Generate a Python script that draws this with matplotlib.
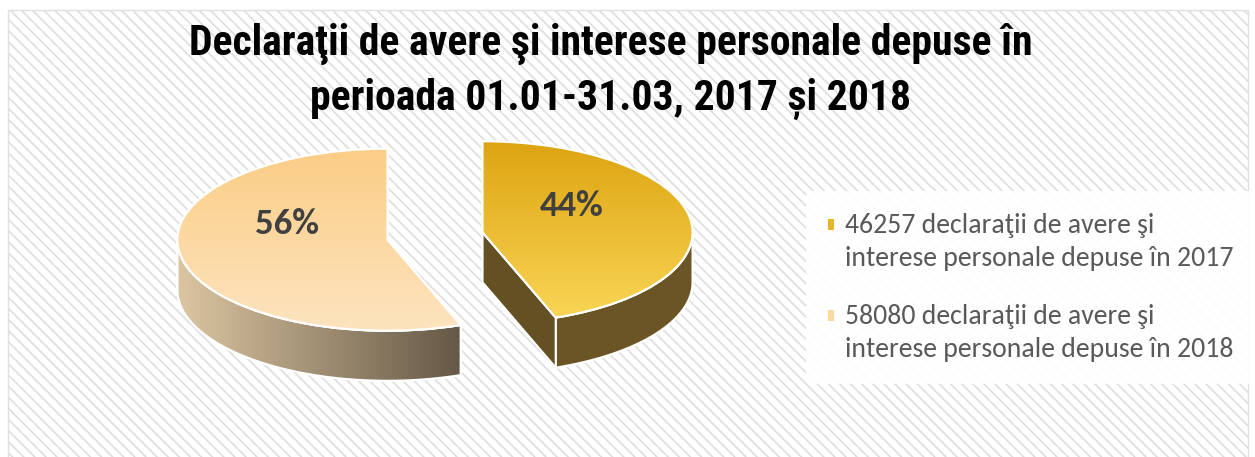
import numpy as np
import matplotlib.pyplot as plt
from matplotlib.patches import Rectangle, Polygon, Wedge
from matplotlib.colors import LinearSegmentedColormap
from matplotlib.legend_handler import HandlerPatch

# --- data ---
counts = [46257, 58080]
years = ["2017", "2018"]
legend_labels = [f"{c} declaraţii de avere şi\ninterese personale depuse în {y}"
                 for c, y in zip(counts, years)]
title = ("Declaraţii de avere şi interese personale depuse în\n"
         "perioada 01.01-31.03, 2017 și 2018")

# --- styles ---
base_colors = ["#e8b52a", "#fcd99e"]
top_grad = [("#fad657", "#dda411"), ("#fde4bf", "#fbcd86")]   # bottom -> top
side_grad = [("#6b5525", "#6b5525"), ("#dcc6a2", "#655846")]  # left -> right
face_color = "#645022"
W, H = 1255, 457
CX, CY = 435, 236      # pie centre in pixels
SX, SY = 210, 91       # pixels per unit (x, tilted y)
DEPTH = 0.55           # thickness in data units
LEG_FONT = ["Carlito", "Lato", "DejaVu Sans"]
TITLE_FONT = ["Roboto Condensed", "Archivo Narrow", "Liberation Sans", "DejaVu Sans"]

plt.rcParams['hatch.linewidth'] = 1.3

fig = plt.figure(figsize=(W / 100, H / 100), dpi=100)
fig.patches.append(Rectangle((8 / W, -0.05), 1240 / W, (H - 10) / H + 0.05,
                             transform=fig.transFigure, facecolor="white",
                             edgecolor="#e0e0e0", hatch="\\\\\\", lw=1, zorder=-1))

ax = fig.add_axes([0, 0, 1, 1])
wedges, texts, autotexts = ax.pie(counts, startangle=90, counterclock=False,
                                  explode=[0.23, 0.23], autopct="%1.0f%%",
                                  wedgeprops=dict(edgecolor="white", lw=1.5))


def gradient(ax, c0, c1, extent, clip, vertical, z):
    cmap = LinearSegmentedColormap.from_list("g", [c0, c1])
    g = np.linspace(0, 1, 256)
    g = g.reshape(-1, 1) if vertical else g.reshape(1, -1)
    im = ax.imshow(g, cmap=cmap, extent=extent, origin="lower",
                   aspect="auto", zorder=z, interpolation="bilinear")
    im.set_clip_path(clip)


for i, w in enumerate(wedges):
    cx, cy = w.center
    t1, t2 = w.theta1, w.theta2
    w.set_facecolor(base_colors[i])
    w.set_zorder(3)

    # front rim (visible part of the outer side)
    for off in (-360, 0, 360):
        lo, hi = max(t1 + off, -180), min(t2 + off, 0)
        if hi > lo:
            t = np.radians(np.linspace(lo, hi, 100))
            xs = cx + np.cos(t)
            ys = cy + np.sin(t)
            pts = np.column_stack([np.r_[xs, xs[::-1]],
                                   np.r_[ys, ys[::-1] - DEPTH]])
            rim = Polygon(pts, closed=True, facecolor=side_grad[i][0],
                          edgecolor="white", lw=1.5, zorder=1)
            ax.add_patch(rim)
            gradient(ax, side_grad[i][0], side_grad[i][1],
                     (xs.min(), xs.max(), ys.min() - DEPTH, ys.max()),
                     rim, False, 1.5)
            ax.add_patch(Polygon(pts, closed=True, facecolor="none",
                                 edgecolor="white", lw=1.5, zorder=2))

    # cut faces
    for ang, normal in ((t1, t1 - 90), (t2, t2 + 90)):
        if np.sin(np.radians(normal)) < -0.1:
            ex, ey = cx + np.cos(np.radians(ang)), cy + np.sin(np.radians(ang))
            pts = [(cx, cy), (ex, ey), (ex, ey - DEPTH), (cx, cy - DEPTH)]
            ax.add_patch(Polygon(pts, closed=True, facecolor=face_color,
                                 edgecolor="white", lw=1.5, zorder=2))

    # top face gradient + outline
    gradient(ax, top_grad[i][0], top_grad[i][1],
             (cx - 1, cx + 1, cy - 1, cy + 1), w, True, 3.5)
    ax.add_patch(Wedge((cx, cy), w.r, t1, t2, facecolor="none",
                       edgecolor="white", lw=1.5, zorder=4))

    # percentage label
    m = (t1 + t2) / 2 % 360
    a = np.radians(m + 0.3 * (90 - m))
    autotexts[i].set_position((cx + 0.51 * np.cos(a), cy + 0.51 * np.sin(a)))
    autotexts[i].set_fontfamily(LEG_FONT)
    autotexts[i].set_fontweight("bold")
    autotexts[i].set_fontsize(26.5)
    autotexts[i].set_color("#404040")
    autotexts[i].set_zorder(6)

ax.set_aspect("auto")
ax.set_xlim(-CX / SX, (W - CX) / SX)
ax.set_ylim((CY - H) / SY, CY / SY)
ax.set_axis_off()

fig.text(611 / W, 1 - 23 / H, title, ha="center", va="top",
         fontsize=30, fontweight="bold", linespacing=1.4, family=TITLE_FONT)


class TopMarker(HandlerPatch):
    # small square next to the first line of a two-line label
    def create_artists(self, legend, orig, xdescent, ydescent, width, height,
                       fontsize, trans):
        r = Rectangle((-xdescent, -ydescent + 0.63 * fontsize), width, height,
                      facecolor=orig.get_facecolor(), edgecolor="none",
                      transform=trans)
        return [r]


leg = fig.legend(wedges, legend_labels, loc="upper left",
                 bbox_to_anchor=(806 / W, 1 - 191 / H), borderaxespad=0,
                 facecolor="white", edgecolor="none", framealpha=0.95,
                 prop=dict(family=LEG_FONT, size=20), labelcolor="#595959",
                 handlelength=0.22, handleheight=0.22, handletextpad=0.4,
                 labelspacing=1.2, borderpad=0.8,
                 handler_map={Wedge: TopMarker()})
for t in leg.get_texts():
    t.set_linespacing(1.38)

fig.savefig("out.png", dpi=100)
